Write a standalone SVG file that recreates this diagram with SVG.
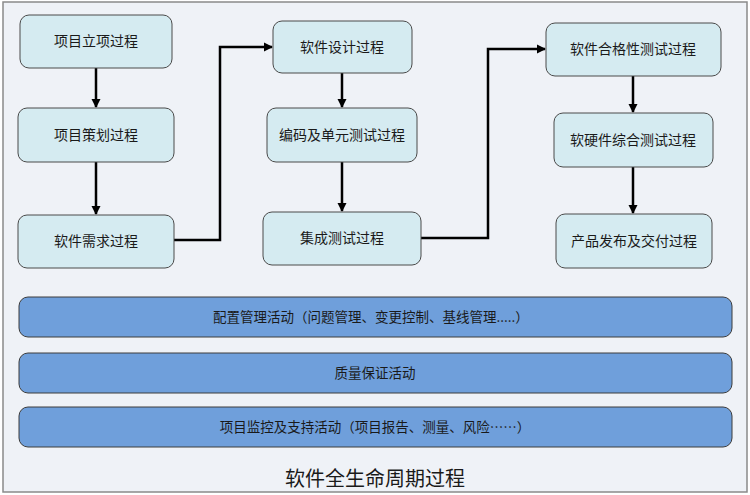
<svg xmlns="http://www.w3.org/2000/svg" width="750" height="495" viewBox="0 0 750 495">
<defs>
<style>
.node rect{fill:#d5ebf1;stroke:#4a4a4a;stroke-width:1}
.bar rect{fill:#6f9fdb;stroke:#3c3c3c;stroke-width:1}
text{font-family:"Noto Sans CJK SC","Noto Sans",sans-serif;fill:#1a1a1a;text-anchor:middle;dominant-baseline:central}
.node text{font-size:14px}
.bar text{font-size:13.5px}
.conn{fill:none;stroke:#000;stroke-width:2.5}
</style>
<marker id="ah" markerWidth="10" markerHeight="10" refX="8" refY="5" orient="auto" markerUnits="userSpaceOnUse">
<path d="M0,0.5 L9,5 L0,9.5 Z" fill="#000"/>
</marker>
</defs>
<rect x="3" y="2" width="744" height="490" fill="#eff2f7" stroke="#8a8a8a" stroke-width="1.5"/>
<g id="connectors">
<line class="conn" x1="96" y1="68" x2="96" y2="107" marker-end="url(#ah)"/>
<line class="conn" x1="96" y1="162" x2="96" y2="214" marker-end="url(#ah)"/>
<polyline class="conn" points="174,240 220,240 220,47 272,47" marker-end="url(#ah)"/>
<line class="conn" x1="342" y1="73" x2="342" y2="107" marker-end="url(#ah)"/>
<line class="conn" x1="342" y1="162" x2="342" y2="211" marker-end="url(#ah)"/>
<polyline class="conn" points="421,238 488,238 488,49 545,49" marker-end="url(#ah)"/>
<line class="conn" x1="633" y1="76" x2="633" y2="112" marker-end="url(#ah)"/>
<line class="conn" x1="633" y1="167" x2="633" y2="213" marker-end="url(#ah)"/>
</g>
<g id="n1" class="node"><rect x="20" y="15" width="152" height="53" rx="9"/><text x="96" y="40">项目立项过程</text></g>
<g id="n2" class="node"><rect x="18" y="108" width="156" height="54" rx="9"/><text x="96" y="133.5">项目策划过程</text></g>
<g id="n3" class="node"><rect x="18" y="215" width="156" height="53" rx="9"/><text x="96" y="240">软件需求过程</text></g>
<g id="n4" class="node"><rect x="273" y="21" width="139" height="52" rx="9"/><text x="342" y="45.5">软件设计过程</text></g>
<g id="n5" class="node"><rect x="267" y="108" width="150" height="54" rx="9"/><text x="342" y="133.5">编码及单元测试过程</text></g>
<g id="n6" class="node"><rect x="263" y="212" width="158" height="53" rx="9"/><text x="342" y="237">集成测试过程</text></g>
<g id="n7" class="node"><rect x="546" y="23" width="175" height="53" rx="9"/><text x="633" y="48">软件合格性测试过程</text></g>
<g id="n8" class="node"><rect x="554" y="113" width="159" height="54" rx="9"/><text x="633" y="138.5">软硬件综合测试过程</text></g>
<g id="n9" class="node"><rect x="556" y="214" width="156" height="54" rx="9"/><text x="634" y="239.5">产品发布及交付过程</text></g>
<g id="b1" class="bar"><rect x="19" y="297" width="713" height="40" rx="9"/><text x="371" y="316">配置管理活动（问题管理、变更控制、基线管理.....）</text></g>
<g id="b2" class="bar"><rect x="19" y="353" width="713" height="40" rx="9"/><text x="375" y="372">质量保证活动</text></g>
<g id="b3" class="bar"><rect x="19" y="407" width="713" height="40" rx="9"/><text x="375" y="426">项目监控及支持活动（项目报告、测量、风险……）</text></g>
<text x="375" y="477" style="font-size:20px">软件全生命周期过程</text>
</svg>
